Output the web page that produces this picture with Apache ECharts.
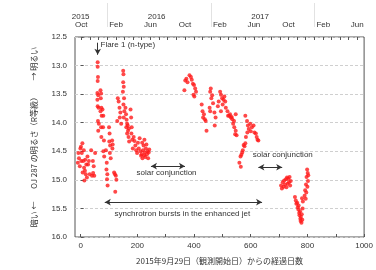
<!DOCTYPE html>
<html><head><meta charset="utf-8">
<script src="https://cdn.jsdelivr.net/npm/echarts@6/dist/echarts.min.js"></script>
<style>html,body{margin:0;padding:0;background:#fff}#c{width:376px;height:270px}</style>
</head><body><div id="c"></div>
<script>
// OJ 287 R-band magnitude vs. days since 2015-09-29
const season1 = [
[-10,14.70],[-8,14.53],[-6,14.62],[-3,14.76],[-1,14.45],[1,14.42],[2,14.67],[4,14.53],[6,14.36],[7,14.87],
[9,14.67],[11,14.48],[12,14.79],[13,15.01],[15,14.84],[16,14.65],[18,14.90],[20,14.73],[22,14.96],[24,14.59],
[26,14.73],[29,14.67],[32,14.90],[37,14.48],[40,14.93],[43,14.67],[46,14.76],[48,14.93],[51,14.53],[44,14.88],
[60,12.94],[60,13.02],[61,13.20],[60,13.27],[59,13.48],[62,13.52],[60,13.71],[63,13.74],[61,13.97],[64,14.02],[62,14.14],[59,13.60],
[70,13.43],[72,13.49],[71,13.57],[73,13.74],[70,13.80],[74,13.88],[72,14.08],[73,14.25],
[77,13.77],[80,13.88],[79,14.08],[82,14.31],[80,14.50],[83,14.59],
[89,14.48],[92,14.70],[91,14.82],[94,14.90],[93,14.99],[95,15.10],
[100,14.08],[102,14.19],[101,14.33],[104,14.40],[103,14.53],[106,14.62],
[111,14.31],[113,14.38],[112,14.45],
[118,14.87],[121,14.90],[124,14.93],[126,15.00],[122,15.21],
[150,13.09],[151,13.15],[150,13.29],[152,13.37],[149,13.46],[153,13.57],[151,13.68],[154,13.80],[152,13.91],
[131,13.57],[134,13.63],[137,13.74],[140,13.82],[138,13.91],[143,14.02],[129,13.97],
[158,13.74],[160,13.85],[162,13.95],[164,14.02],[161,14.08],[167,14.14],[164,14.19],[169,14.25],[171,14.33],[166,14.05],[170,14.10],
[176,13.77],[178,13.91],[180,14.08],[179,14.19],[182,14.30],[184,14.45],
[187,14.25],[190,14.32],[193,14.40],[196,14.48],[199,14.53],[202,14.35],[205,14.45],[208,14.27],[211,14.50],[213,14.58],
[215,14.55],[218,14.62],[220,14.48],[222,14.40],[224,14.57],[226,14.52],[228,14.60],[230,14.45],[232,14.38],[234,14.55],
[236,14.50],[238,14.62],[240,14.52],[242,14.47],[217,14.35],[225,14.30]
];
const season2 = [
[366,13.43],[369,13.26],[373,13.23],[377,13.29],[384,13.17],[389,13.20],[392,13.25],[396,13.32],[400,13.34],[404,13.40],[407,13.46],[398,13.51],[401,13.54],
[427,13.68],[430,13.80],[432,13.91],[438,13.94],[441,13.97],[444,14.14],[435,13.85],
[457,13.46],[459,13.40],[461,13.57],[455,13.74],[457,13.80],[467,13.66],[472,13.82],[476,13.91],[473,14.05],[464,13.52],
[484,13.71],[487,13.63],[492,13.46],[495,13.51],[499,13.57],[501,13.68],[507,13.54],[510,13.63],[512,13.74],[495,13.80],[504,13.60],
[518,13.80],[520,13.88],[524,13.88],[527,13.85],[530,13.91],[533,13.90],[535,13.94],[538,14.02],[542,14.08],[547,14.14],[550,14.22],[547,13.85],[541,13.97],[545,14.20],
[560,14.70],[564,14.59],[565,14.77],[567,14.56],[570,14.52],[572,14.48],[575,14.39],[578,14.41],[581,14.36],
[581,13.88],[583,14.25],[587,13.97],[588,14.17],[590,14.05],[593,14.11],[598,14.02],[604,14.08],[610,14.05],[613,14.17],[618,14.19],[621,14.25],[600,14.15],[624,14.30],[627,14.31]
];
const season3 = [
[707,15.10],[710,15.15],[713,15.04],[716,15.12],[718,15.01],[721,15.08],[724,14.99],[726,15.13],[728,14.96],[730,15.07],[732,14.98],[735,15.04],[737,14.95],[739,15.10],[741,15.02],
[756,15.30],[759,15.36],[761,15.42],[764,15.40],[766,15.48],[768,15.52],[769,15.45],[771,15.58],[772,15.62],[774,15.55],[775,15.68],[776,15.72],[777,15.65],[779,15.75],[780,15.60],[782,15.70],[783,15.50],[784,15.38],[781,15.32],
[790,15.28],[792,15.18],[794,15.33],[795,15.08],[796,15.22],[797,14.95],[799,14.82],[800,15.12],[801,14.88],[802,15.02],[803,14.92]
];

const dayLabelValues = [0,200,400,600,800,1000];
const dayTickValues = [0,100,200,300,400,500,600,700,800,900,1000];
const monthLabelDays = [2,125,246,368,491,611,733,856,976];
const monthLabels = ['Oct','Feb','Jun','Oct','Feb','Jun','Oct','Feb','Jun'];
const yearLabelDays = [0,268,633];
const yearLabels = ['2015','2016','2017'];
const yearBoundaryDays = [94,460,825];

// month-start tick positions (days since 2015-09-29)
const start = Date.UTC(2015,8,29);
const monthStartDays = [];
for (let k = 0; k < 33; k++) {
  const d = Date.UTC(2015, 9 + k, 1);
  monthStartDays.push(Math.round((d - start) / 864e5));
}

const annotations = [
  {text:'Flare 1 (n-type)', day:70, mag:12.64, align:'left'},
  {text:'solar conjunction', day:303, mag:14.88, align:'center'},
  {text:'solar conjunction', day:713, mag:14.57, align:'center'},
  {text:'synchrotron bursts in the enhanced jet', day:359, mag:15.59, align:'center'}
];
const arrows = [
  {from:[60,12.60], to:[60,12.81], both:false},
  {from:[248,14.76], to:[368,14.76], both:true},
  {from:[627,14.78], to:[711,14.78], both:true},
  {from:[85,15.39], to:[640,15.39], both:true}
];

const FONT = "'Liberation Sans', 'DejaVu Sans', sans-serif";
const TXT = '#333';
const chart = echarts.init(document.getElementById('c'), null, {renderer:'canvas'});
const option = {
  animation: false,
  grid: {left:75, right:4, top:37, bottom:27, show:true, borderColor:'#555', borderWidth:1, backgroundColor:'transparent'},
  xAxis: [
    {type:'value', position:'bottom', min:-20, max:1000,
     name:'2015年9月29日（観測開始日）からの経過日数', nameLocation:'middle', nameGap:20,
     nameTextStyle:{fontSize:8, color:TXT, fontFamily:"'Noto Sans CJK JP', sans-serif"},
     axisLine:{show:false}, splitLine:{show:false},
     axisTick:{show:true, inside:true, length:3, customValues:dayTickValues, lineStyle:{color:'#555'}},
     axisLabel:{fontSize:8, color:TXT, fontFamily:FONT, margin:5, customValues:dayLabelValues,
       formatter:function(v){return String(v);}}},
    {type:'value', position:'top', min:-20, max:1000,
     axisLine:{show:false}, splitLine:{show:false},
     axisTick:{show:true, inside:true, length:3, customValues:monthStartDays, lineStyle:{color:'#555'}},
     axisLabel:{fontSize:8, color:TXT, fontFamily:FONT, margin:8, customValues:monthLabelDays,
       formatter:function(v){const i = monthLabelDays.indexOf(v); return i >= 0 ? monthLabels[i] : '';}}},
    {type:'value', position:'top', offset:10, min:-20, max:1000,
     axisLine:{show:false}, splitLine:{show:false},
     axisTick:{show:true, inside:false, length:24, customValues:yearBoundaryDays, lineStyle:{color:'#e2e2e2'}},
     axisLabel:{fontSize:8, color:TXT, fontFamily:FONT, margin:6, customValues:yearLabelDays,
       formatter:function(v){const i = yearLabelDays.indexOf(v); return i >= 0 ? yearLabels[i] : '';}}}
  ],
  yAxis: [
    {type:'value', min:12.5, max:16, interval:0.5, inverse:true,
     name:'暗い ←       OJ 287 の明るさ（R等級）       → 明るい', nameLocation:'middle', nameGap:37, nameRotate:90,
     nameTextStyle:{fontSize:8, color:TXT, fontFamily:"'Noto Sans CJK JP', sans-serif"},
     axisLine:{show:false},
     axisTick:{show:true, inside:true, length:3, lineStyle:{color:'#555'}},
     axisLabel:{fontSize:8, color:TXT, fontFamily:FONT, margin:8, formatter:function(v){return v.toFixed(1);}},
     splitLine:{show:true, lineStyle:{color:'#cfcfcf', type:[3,2], width:1}}}
  ],
  series: [
    {type:'scatter', name:'2015-16', data:season1, symbol:'circle', symbolSize:4, itemStyle:{color:'#ff1a1a'},
     markLine:{silent:true, animation:false, label:{show:false}, lineStyle:{color:'#333', width:1, type:'solid'}, symbolSize:[5,6],
       data: arrows.map(a => [{coord:a.from, symbol:a.both ? 'arrow' : 'none'}, {coord:a.to, symbol:'arrow'}])}},
    {type:'scatter', name:'2016-17', data:season2, symbol:'circle', symbolSize:4, itemStyle:{color:'#ff1a1a'}},
    {type:'scatter', name:'2017-18', data:season3, symbol:'circle', symbolSize:4, itemStyle:{color:'#ff1a1a'}}
  ]
};
chart.setOption(option);
const g = annotations.map(a => {
  const p = chart.convertToPixel({xAxisIndex:0, yAxisIndex:0}, [a.day, a.mag]);
  return {type:'text', x:p[0], y:p[1], silent:true,
    style:{text:a.text, fill:TXT, fontSize:8, fontFamily:FONT, align:a.align, verticalAlign:'middle'}};
});
chart.setOption({graphic:g});
</script>
</body></html>
